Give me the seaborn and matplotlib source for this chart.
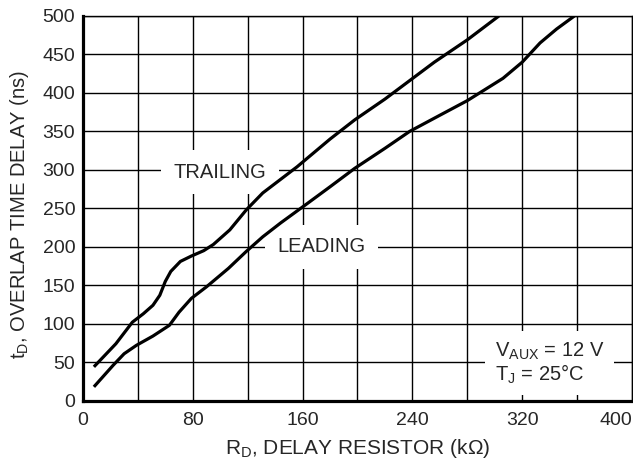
import matplotlib
matplotlib.use("Agg")
import matplotlib.pyplot as plt
import seaborn as sns
import pandas as pd

trailing_x = [8, 24, 36, 44, 51, 56, 60, 64, 71, 79, 88, 95, 107, 119, 131, 156, 180, 198, 220, 238, 256, 280, 303]
trailing_y = [44, 74, 102, 113, 124, 137, 155, 168, 181, 188, 195, 203, 222, 248, 270, 304, 340, 365, 392, 416, 440, 469, 500]
leading_x = [8, 14, 22, 30, 39, 51, 63, 70, 79, 90, 106, 119, 131, 144, 164, 180, 198, 220, 238, 260, 280, 306, 320, 333, 345, 358]
leading_y = [18, 30, 46, 61, 72, 84, 98, 115, 133, 148, 172, 194, 213, 231, 257, 278, 302, 328, 350, 371, 390, 419, 440, 465, 483, 500]
x_ticks = [0, 80, 160, 240, 320, 400]
y_ticks = [0, 50, 100, 150, 200, 250, 300, 350, 400, 450, 500]

sns.set_style("white")
plt.rcParams['font.family'] = ['Liberation Sans', 'DejaVu Sans']
plt.rcParams['mathtext.default'] = 'regular'

df = pd.concat([
    pd.DataFrame({"R": trailing_x, "t": trailing_y, "curve": "TRAILING"}),
    pd.DataFrame({"R": leading_x, "t": leading_y, "curve": "LEADING"}),
])

fig = plt.figure(figsize=(6.33, 4.62), dpi=100)
ax = fig.add_axes([0.131, 0.1327, 0.8675, 0.8327])
ax.set_axisbelow(True)
sns.lineplot(data=df, x="R", y="t", units="curve", estimator=None, sort=False,
             color="black", linewidth=2.3, ax=ax, zorder=5, legend=False)
for ln in ax.get_lines():
    ln.set_solid_joinstyle("round")
    ln.set_solid_capstyle("butt")

ax.set_xlim(0, 400)
ax.set_ylim(0, 500)
ax.set_xticks(range(0, 401, 40))
ax.set_xticklabels([str(v) if v in x_ticks else "" for v in range(0, 401, 40)])
ax.get_xticklabels()[-1].set_horizontalalignment("right")
ax.set_yticks(y_ticks)
ax.set_yticklabels([str(v) for v in y_ticks])
ax.grid(True, color="black", linewidth=1.0)
ax.tick_params(axis="both", length=0, labelsize=14)
ax.tick_params(axis="x", pad=8)
ax.tick_params(axis="y", pad=5.5)
for s in ["top", "right"]:
    ax.spines[s].set_linewidth(1.0)
for s in ["left", "bottom"]:
    ax.spines[s].set_linewidth(2.3)
for s in ax.spines.values():
    s.set_color("black")

ax.set_xlabel(r"R$_{D}$, DELAY RESISTOR (k$\Omega$)", fontsize=15, labelpad=6)
ax.set_ylabel(r"t$_{D}$, OVERLAP TIME DELAY (ns)", fontsize=14.5)
ax.yaxis.set_label_coords(-0.095, 0.483)

box = dict(facecolor="white", edgecolor="none", pad=9)
ax.text(100, 297, "TRAILING", fontsize=14.5, ha="center", va="center", bbox=box, zorder=3)
ax.text(174, 200, "LEADING", fontsize=14.5, ha="center", va="center", bbox=box, zorder=3)
ax.text(300, 49, "V$_{AUX}$ = 12 V\nT$_{J}$ = 25°C", fontsize=14.5, ha="left", va="center",
        linespacing=1.05, bbox=dict(facecolor="white", edgecolor="none", pad=7), zorder=3)

fig.savefig("out.png", dpi=100)
